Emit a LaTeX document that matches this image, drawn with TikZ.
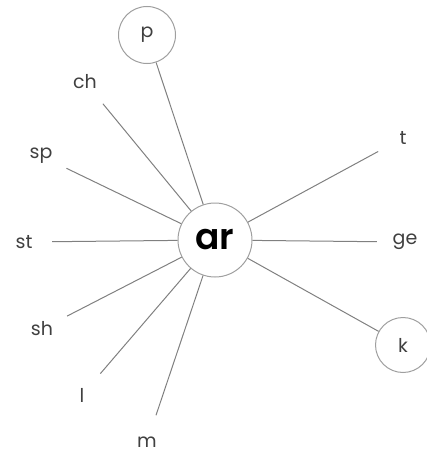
\documentclass[tikz,border=0pt]{standalone}
\usepackage{fontspec}
\setmainfont{Poppins}
\newfontfamily\arfont{Poppins SemiBold}
\usetikzlibrary{positioning}

\begin{document}
\begin{tikzpicture}[x=1pt, y=-1pt, every node/.style={font=\fontsize{19}{19}\selectfont, text=black!75}]
\useasboundingbox (0,0) rectangle (427,455);
\node[draw=gray!75, circle, line width=1pt, minimum size=74pt, text=black, font=\arfont\fontsize{36}{36}\selectfont] (ar) at (215,240) {ar};
\node[draw=gray!75, circle, line width=1pt, minimum size=57pt] (p) at (147,35) {p};
\node[draw=gray!75, circle, line width=1pt, minimum size=55pt] (k) at (403,345) {k};
\node[circle, minimum size=56pt] (ch) at (85,82) {ch};
\node[circle, minimum size=56pt] (sp) at (41,156) {sp};
\node[circle, minimum size=56pt] (st) at (24,242) {st};
\node[circle, minimum size=56pt] (sh) at (42,329) {sh};
\node[circle, minimum size=56pt] (l) at (82,395) {l};
\node[circle, minimum size=56pt] (m) at (147,442) {m};
\node[circle, minimum size=56pt] (t) at (403,138) {t};
\node[circle, minimum size=56pt] (ge) at (405,242) {ge};

\draw[gray, line width=1pt] (ar) -- (p);
\draw[gray, line width=1pt] (ar) -- (ch);
\draw[gray, line width=1pt] (ar) -- (sp);
\draw[gray, line width=1pt] (ar) -- (st);
\draw[gray, line width=1pt] (ar) -- (sh);
\draw[gray, line width=1pt] (ar) -- (l);
\draw[gray, line width=1pt] (ar) -- (m);
\draw[gray, line width=1pt] (ar) -- (k);
\draw[gray, line width=1pt] (ar) -- (ge);
\draw[gray, line width=1pt] (ar) -- (t);
\end{tikzpicture}
\end{document}
